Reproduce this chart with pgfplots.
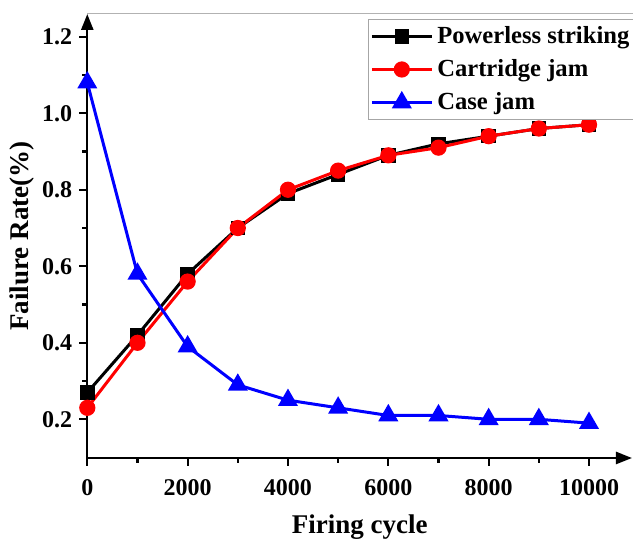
\documentclass[border=0pt]{standalone}
\usepackage{fontspec}
\setmainfont{Liberation Serif}
\usepackage{pgfplots}
\pgfplotsset{compat=1.18}
\usetikzlibrary{arrows.meta}

\begin{document}
\begin{tikzpicture}
\begin{axis}[
  scale only axis,
  width=272.35pt, height=222pt,
  xmin=0, xmax=10857,
  ymin=0.0989, ymax=1.2594,
  axis lines=left,
  axis line style={line width=1.2pt, -{Triangle[width=6pt,length=8pt]}},
  tick align=outside,
  major tick length=4pt,
  minor tick length=2.5pt,
  every tick/.style={black, line width=1.1pt},
  xtick={0,2000,4000,6000,8000,10000},
  minor xtick={1000,3000,5000,7000,9000},
  ytick={0.2,0.4,0.6,0.8,1.0,1.2},
  minor ytick={0.3,0.5,0.7,0.9,1.1},
  scaled x ticks=false,
  /pgf/number format/assume math mode=true,
  xticklabel style={/pgf/number format/1000 sep={}, font=\fontsize{12}{14}\selectfont\bfseries, yshift=-3pt},
  yticklabel style={/pgf/number format/fixed, /pgf/number format/fixed zerofill,
                    /pgf/number format/precision=1, font=\fontsize{12}{14}\selectfont\bfseries},
  xlabel={Firing cycle},
  ylabel={Failure Rate(\%)},
  label style={font=\fontsize{13.5}{16}\selectfont\bfseries},
  xlabel style={yshift=-3pt},
  ylabel style={yshift=-3pt},
  clip=false,
  legend cell align=left,
  legend style={at={(rel axis cs:0.515,0.989)}, anchor=north west,
                draw=gray!70, line width=0.5pt,
                font=\fontsize{12.3}{15}\selectfont\bfseries,
                inner xsep=1pt, inner ysep=1.5pt,
                row sep=2.5pt},
  legend image code/.code={%
    \draw[mark repeat=2, mark phase=2] plot coordinates {(0pt,0pt) (15pt,0pt) (30pt,0pt)};},
  every axis plot/.append style={line width=1.5pt},
]
\coordinate (sw) at (rel axis cs:0,0);
\coordinate (ne) at (rel axis cs:1,1);

% powerless striking
\addplot[black, mark=square*, mark size=2.9pt, mark options={solid}] coordinates {
  (0,0.27) (1000,0.42) (2000,0.58) (3000,0.70) (4000,0.79) (5000,0.84)
  (6000,0.89) (7000,0.92) (8000,0.94) (9000,0.96) (10000,0.97)};
\addlegendentry{Powerless striking}

% cartridge jam
\addplot[red, mark=*, mark size=3.3pt] coordinates {
  (0,0.23) (1000,0.40) (2000,0.56) (3000,0.70) (4000,0.80) (5000,0.85)
  (6000,0.89) (7000,0.91) (8000,0.94) (9000,0.96) (10000,0.97)};
\addlegendentry{Cartridge jam}

% case jam
\addplot[blue, mark=triangle*, mark size=4.3pt] coordinates {
  (0,1.08) (1000,0.58) (2000,0.39) (3000,0.29) (4000,0.25) (5000,0.23)
  (6000,0.21) (7000,0.21) (8000,0.20) (9000,0.20) (10000,0.19)};
\addlegendentry{Case jam}

% thin frame line along the top
\draw[gray!60, line width=0.5pt] (rel axis cs:0,1) -- (rel axis cs:1.1,1);
\end{axis}
\pgfresetboundingbox
\path[use as bounding box] ([xshift=-43.65pt,yshift=-40.5pt]sw) rectangle ([xshift=0.5pt,yshift=7pt]ne);
\end{tikzpicture}
\end{document}
